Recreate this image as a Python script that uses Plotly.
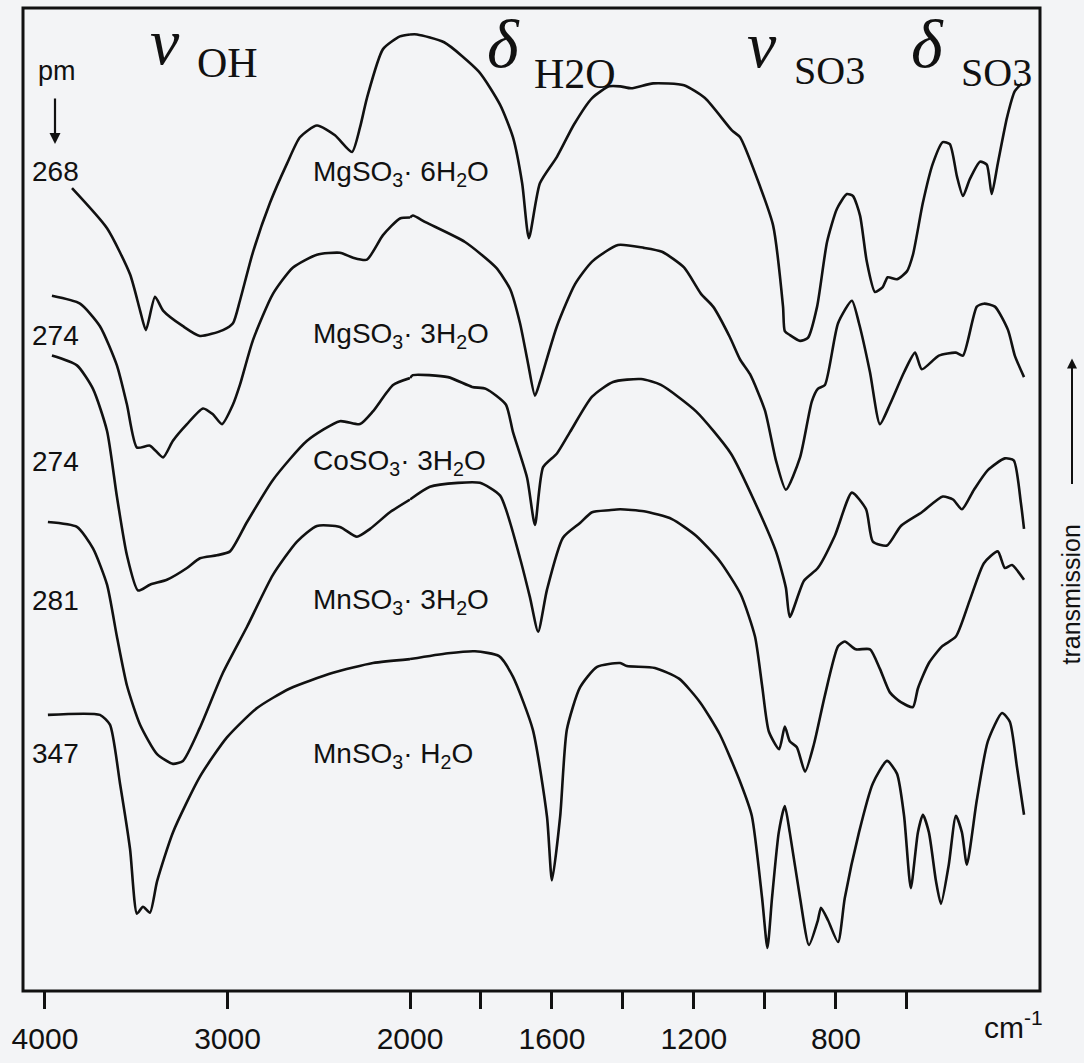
import plotly.graph_objects as go

# ---------------- data (wavenumber in cm-1, transmission in arbitrary offset units) ----------------
mg6_wn = [3852, 3660, 3534, 3479, 3447, 3397, 3353, 3244, 3151, 3025, 2970, 2932, 2860, 2767, 2674, 2603,
          2510, 2411, 2318, 2274, 2236, 2148, 2055, 2000, 1980, 1904, 1806, 1746, 1710, 1684, 1665, 1634,
          1586, 1538, 1487, 1439, 1408, 1377, 1315, 1228, 1169, 1093, 1070, 1014, 977, 949, 944, 930, 901,
          879, 853, 825, 797, 769, 752, 732, 713, 690, 668, 654, 628, 600, 583, 555, 527, 499, 479, 459,
          442, 423, 394, 375, 361, 344, 318, 296, 276]
mg6_t = [82.0, 77.9, 73.2, 69.5, 67.5, 70.9, 69.5, 67.9, 66.9, 67.5, 68.2, 70.5, 75.5, 80.5, 84.5, 87.2,
         88.4, 87.4, 85.7, 88.2, 91.2, 96.2, 97.5, 97.7, 97.7, 96.9, 93.9, 90.5, 87.2, 82.5, 76.9, 82.5,
         85.2, 88.5, 91.2, 92.4, 92.4, 92.2, 92.7, 92.5, 91.2, 87.9, 87.2, 82.2, 78.2, 69.9, 67.4, 67.0, 66.4,
         66.7, 69.9, 76.5, 79.9, 81.4, 81.2, 79.2, 74.5, 71.4, 71.9, 72.9, 72.7, 73.5, 75.2, 80.5, 84.5, 86.7,
         86.5, 83.2, 81.2, 82.9, 84.7, 84.4, 81.4, 84.5, 89.2, 91.9, 92.7]

mg3_wn = [3962, 3808, 3699, 3606, 3551, 3496, 3425, 3353, 3299, 3222, 3134, 3080, 3030, 2970, 2932, 2860,
          2751, 2641, 2510, 2384, 2312, 2236, 2148, 2055, 2000, 1992, 1955, 1845, 1758, 1718, 1690, 1668,
          1648, 1634, 1586, 1535, 1487, 1414, 1341, 1290, 1228, 1180, 1146, 1099, 1070, 1042, 1000, 969,
          941, 901, 868, 851, 831, 794, 755, 735, 704, 676, 648, 608, 577, 558, 510, 462, 442, 403, 383,
          352, 315, 296, 270]
mg3_t = [71.0, 70.2, 67.9, 63.9, 59.9, 55.5, 55.7, 54.5, 56.2, 57.9, 59.5, 58.9, 57.9, 59.9, 61.9, 66.5,
         71.2, 73.9, 75.2, 75.4, 74.9, 74.7, 77.2, 78.9, 79.0, 79.2, 78.5, 76.5, 73.9, 71.7, 68.2, 64.2,
         60.8, 62.2, 67.9, 72.2, 74.5, 76.2, 75.9, 75.5, 73.9, 71.2, 69.9, 66.8, 64.5, 63.0, 59.3, 54.2,
         51.2, 54.5, 60.2, 61.5, 61.9, 68.2, 70.5, 68.2, 63.2, 57.9, 59.9, 63.2, 65.2, 63.5, 64.9, 65.2,
         64.9, 69.9, 70.2, 69.9, 67.5, 64.9, 62.7]

co3_wn = [3962, 3825, 3737, 3660, 3606, 3551, 3490, 3425, 3332, 3222, 3151, 3058, 2986, 2893, 2751, 2564,
          2384, 2274, 2203, 2093, 2000, 1992, 1893, 1825, 1786, 1730, 1710, 1670, 1648, 1625, 1586, 1549,
          1487, 1428, 1349, 1293, 1194, 1096, 1028, 969, 941, 930, 890, 851, 803, 755, 715, 696, 656, 617,
          558, 499, 470, 445, 411, 372, 324, 299, 279, 270]
co3_t = [64.9, 63.9, 61.5, 57.2, 50.5, 44.5, 40.9, 41.5, 42.0, 43.2, 44.2, 44.5, 44.9, 47.9, 52.2, 56.2,
         58.2, 57.9, 59.2, 61.9, 62.6, 62.9, 62.7, 61.7, 61.5, 59.9, 57.1, 52.4, 47.6, 53.5, 54.9, 57.1,
         60.7, 62.2, 62.5, 61.9, 59.2, 54.9, 49.9, 44.9, 41.2, 38.2, 41.9, 43.2, 46.5, 50.9, 49.2, 45.9,
         45.5, 47.5, 48.9, 50.5, 50.2, 49.2, 51.2, 53.2, 54.4, 54.2, 49.9, 47.2]

mn3_wn = [3984, 3825, 3737, 3660, 3606, 3551, 3479, 3386, 3299, 3244, 3151, 3025, 2893, 2751, 2619, 2510,
          2384, 2291, 2219, 2110, 2000, 1944, 1865, 1803, 1746, 1690, 1662, 1639, 1614, 1569, 1521, 1487,
          1439, 1408, 1341, 1262, 1194, 1127, 1068, 1028, 1008, 989, 960, 944, 930, 910, 887, 862, 831, 794,
          775, 744, 704, 676, 648, 617, 583, 569, 538, 501, 462, 423, 383, 344, 324, 304, 270]
mn3_t = [47.9, 47.4, 45.2, 41.5, 36.2, 31.2, 27.2, 24.2, 23.2, 23.5, 26.9, 32.5, 37.2, 42.5, 45.9, 47.5,
         47.4, 46.4, 47.2, 48.9, 50.2, 51.5, 51.9, 51.9, 50.6, 44.2, 40.2, 36.7, 41.0, 46.3, 47.8, 48.9,
         49.1, 49.2, 49.0, 48.2, 46.5, 43.9, 40.5, 36.2, 31.2, 26.5, 24.7, 27.0, 25.5, 24.9, 22.4, 25.2, 30.2,
         35.2, 35.7, 34.9, 34.9, 32.9, 30.5, 29.5, 29.0, 30.9, 33.5, 35.2, 36.2, 39.9, 43.7, 44.9, 43.2,
         43.5, 42.0]

mn1_wn = [3984, 3699, 3644, 3589, 3534, 3496, 3463, 3425, 3386, 3299, 3151, 3003, 2838, 2658, 2422, 2203,
          2000, 1893, 1817, 1749, 1710, 1654, 1614, 1600, 1577, 1558, 1521, 1473, 1408, 1389, 1310, 1242,
          1183, 1127, 1068, 1037, 1008, 993, 980, 961, 944, 930, 901, 876, 851, 842, 822, 794, 775, 735,
          696, 656, 628, 608, 589, 569, 555, 538, 518, 504, 482, 462, 445, 431, 403, 372, 332, 310, 290, 270]
mn1_t = [28.2, 28.2, 27.2, 21.2, 14.5, 7.9, 8.6, 8.0, 11.2, 16.2, 21.9, 25.9, 28.9, 30.9, 32.5, 33.5,
         33.9, 34.5, 34.7, 34.2, 32.1, 26.7, 17.8, 11.3, 17.8, 26.7, 31.0, 33.1, 33.5, 33.2, 33.0, 31.9,
         29.5, 26.2, 21.2, 17.9, 9.5, 4.4, 9.5, 16.2, 18.9, 16.2, 9.5, 4.7, 7.2, 8.5, 7.2, 5.0, 9.5, 16.2,
         21.2, 23.5, 22.2, 17.9, 10.5, 16.2, 18.0, 16.2, 11.2, 8.9, 12.9, 17.9, 16.2, 12.9, 19.5, 25.5,
         28.4, 27.5, 22.9, 18.0]

compounds = ["MgSO<sub>3</sub>· 6H<sub>2</sub>O", "MgSO<sub>3</sub>· 3H<sub>2</sub>O",
             "CoSO<sub>3</sub>· 3H<sub>2</sub>O", "MnSO<sub>3</sub>· 3H<sub>2</sub>O",
             "MnSO<sub>3</sub>· H<sub>2</sub>O"]
distances = ["268", "274", "274", "281", "347"]
ticks_hi = [4000, 3000, 2000]
ticks_lo = [1800, 1600, 1400, 1200, 1000, 800, 600]
ticks_lo_text = ["", "1600", "", "1200", "", "800", ""]

series = [(mg6_wn, mg6_t), (mg3_wn, mg3_t), (co3_wn, co3_t), (mn3_wn, mn3_t), (mn1_wn, mn1_t)]

# ---------------- layout geometry ----------------
W, H = 1084, 1063
L, R, T, B = 23, 44, 8, 51
PW, PH = W - L - R, H - T - B
BREAK = 2000
split = (410 - L) / PW
INK = "#111111"
BG = "#f3f4f6"


def fx(x):
    return (x - L) / PW


def fy(y):
    return (H - B - y) / PH


fig = go.Figure()
line = dict(color=INK, width=2.6, shape="spline", smoothing=0.6)
for wn, t in series:
    hi = [(w, v) for w, v in zip(wn, t) if w >= BREAK]
    lo = [(w, v) for w, v in zip(wn, t) if w <= BREAK]
    fig.add_trace(go.Scatter(x=[w for w, _ in hi], y=[v for _, v in hi], xaxis="x", yaxis="y",
                             mode="lines", line=line, hoverinfo="skip", showlegend=False))
    fig.add_trace(go.Scatter(x=[w for w, _ in lo], y=[v for _, v in lo], xaxis="x2", yaxis="y",
                             mode="lines", line=line, hoverinfo="skip", showlegend=False))

tickfont = dict(family="Arial, Liberation Sans, sans-serif", size=30, color=INK)
axis_common = dict(showgrid=False, zeroline=False, showline=False, ticks="outside", ticklen=17,
                   tickwidth=2.5, tickcolor=INK, tickfont=tickfont, anchor="y", fixedrange=True,
                   ticklabelstandoff=4)
fig.update_layout(
    width=W, height=H,
    margin=dict(l=L, r=R, t=T, b=B, pad=0),
    paper_bgcolor=BG, plot_bgcolor=BG,
    showlegend=False,
    xaxis=dict(domain=[0, split], range=[4120.5, BREAK], tickvals=ticks_hi,
               ticktext=[str(v) for v in ticks_hi], **axis_common),
    xaxis2=dict(domain=[split, 1], range=[BREAK, 225], tickvals=ticks_lo, ticktext=ticks_lo_text,
                **axis_common),
    yaxis=dict(range=[0, 100.4], showgrid=False, zeroline=False, showline=False,
               showticklabels=False, ticks="", fixedrange=True),
)

fig.add_shape(type="rect", xref="paper", yref="paper", x0=0, x1=1, y0=0, y1=1,
              line=dict(color=INK, width=3), layer="above")

sans = "Arial, Liberation Sans, sans-serif"
serif = "Times New Roman, Liberation Serif, serif"
ann = []


def text(x, y, s, size, family=sans, xanchor="center", yanchor="middle", angle=0):
    ann.append(dict(x=fx(x), y=fy(y), xref="paper", yref="paper", text=s, showarrow=False,
                    font=dict(family=family, size=size, color=INK), xanchor=xanchor,
                    yanchor=yanchor, textangle=angle))


# left distance column
text(57, 72, "pm", 27)
ann.append(dict(x=fx(55), y=fy(147), xref="paper", yref="paper", ax=0, ay=-47, text="",
                showarrow=True, arrowhead=2, arrowsize=1, arrowwidth=2.2, arrowcolor=INK))
for d, yy in zip(distances, [175, 342, 471, 613, 769]):
    text(55, yy, d, 28)
for c, yy in zip(compounds, [177, 343, 472, 614, 771]):
    text(311, yy, c, 28, xanchor="left")

# band labels
text(165, 42, "<i>\u03bd</i>", 66, family=serif)
text(227, 64, "OH", 42, family=serif)
text(503, 45, "<i>\u03b4</i>", 68, family=serif)
text(575, 75, "H2O", 42, family=serif)
text(762, 45, "<i>\u03bd</i>", 66, family=serif)
text(829, 72, "SO3", 40, family=serif)
text(927, 45, "<i>\u03b4</i>", 68, family=serif)
text(996, 74, "SO3", 40, family=serif)

# unit label
text(1013, 1047, "cm<sup>-1</sup>", 30)

# transmission arrow + label
text(1071, 607, "transmission", 25, angle=-90)
ann.append(dict(x=fx(1072), y=fy(366), xref="paper", yref="paper", ax=0, ay=127, text="",
                showarrow=True, arrowhead=2, arrowsize=1, arrowwidth=2, arrowcolor=INK))

fig.update_layout(annotations=ann)
fig.write_html(
    "out.html",
    config={"displayModeBar": False},
    post_script="document.body.style.margin='0';document.body.style.padding='0';"
                "document.body.style.overflow='hidden';document.body.style.background='" + BG + "';",
)
